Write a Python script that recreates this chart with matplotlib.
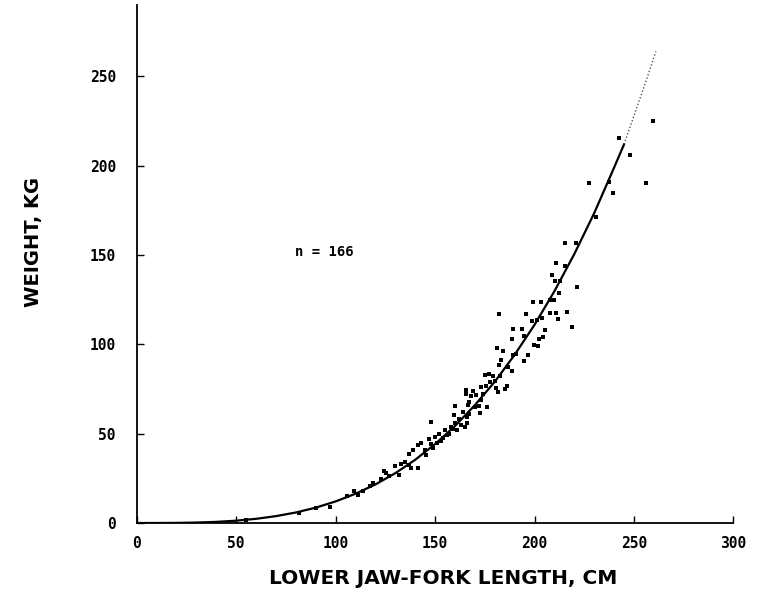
import matplotlib
matplotlib.use("Agg")
import matplotlib.pyplot as plt

# lower jaw-fork length (cm) and weight (kg)
length_cm = [215.1, 220.6, 210.9, 215.4, 209.0, 210.4, 212.7, 212.4, 221.3, 210.0,
             207.7, 199.3, 203.3, 195.5, 181.9, 207.9, 210.9, 216.1, 211.7, 203.8,
             198.5, 201.2, 218.6, 189.1, 193.8, 205.3, 202.2, 204.3, 194.5, 188.6,
             181.2, 183.9, 201.5, 199.7, 190.6, 189.1, 196.5, 194.5, 183.2, 182.1,
             186.8, 177.2, 174.9, 182.7, 188.8, 178.9, 179.9, 177.4, 180.7, 185.9,
             184.9, 181.6, 175.7, 172.9, 169.0, 165.7, 165.3, 168.2, 170.7, 174.2,
             173.2, 167.0, 176.0, 172.0, 170.3, 166.5, 159.8, 164.0, 167.0, 159.6,
             166.0, 172.5, 148.1, 166.2, 164.8, 159.0,
             141.3, 138.8, 137.1, 135.1, 138.0, 141.3, 136.8, 133.0, 129.6, 132.1,
             124.3, 125.4, 122.9, 117.1, 109.0, 111.2, 105.7, 97.0, 90.3, 81.5,
             227.3, 237.2, 255.8, 239.5, 230.8, 248.2, 242.4, 259.8,
             143.0, 145.0, 147.0, 148.0, 150.0, 151.0, 152.0, 153.0, 155.0, 156.0,
             157.0, 158.0, 160.0, 161.0, 162.0, 163.0, 145.5, 149.0, 154.0, 119.0,
             127.0, 114.0, 55.0]
weight_kg = [156.8, 156.8, 145.5, 143.8, 138.9, 135.4, 135.4, 128.7, 132.4, 125.0,
             124.6, 123.5, 123.5, 117.0, 116.8, 117.5, 117.5, 117.9, 114.4, 114.9,
             113.2, 113.6, 109.9, 108.4, 108.8, 107.8, 102.8, 104.1, 104.5, 102.8,
             98.2, 96.3, 99.1, 99.5, 94.4, 94.2, 93.9, 90.7, 91.1, 88.5,
             87.5, 83.6, 83.1, 82.5, 85.1, 82.1, 79.5, 79.0, 75.8, 76.9,
             74.9, 73.6, 76.6, 76.0, 73.8, 74.3, 72.1, 71.0, 71.5, 72.5,
             68.7, 67.8, 65.0, 65.6, 65.0, 65.9, 65.4, 62.2, 61.3, 60.7,
             59.4, 61.7, 56.3, 56.1, 53.8, 52.9,
             43.6, 40.8, 38.6, 34.3, 30.6, 30.6, 32.2, 33.3, 31.9, 26.8,
             29.2, 27.8, 24.4, 20.7, 18.1, 15.7, 15.1, 9.1, 8.2, 5.8,
             190.5, 191.1, 190.2, 184.6, 171.2, 205.8, 215.8, 225.2,
             45.0, 41.0, 47.0, 44.0, 48.0, 45.0, 50.0, 46.0, 52.0, 49.0,
             50.0, 54.0, 56.0, 52.0, 58.0, 55.0, 38.0, 42.0, 47.5, 22.5,
             26.5, 18.0, 1.5]

# fitted length-weight curve, sampled every 10 cm
curve_len = [0, 10, 20, 30, 40, 50, 60, 70, 80, 90, 100, 110, 120, 130, 140, 150,
             160, 170, 180, 190, 200, 210, 220, 230, 240, 245]
curve_wt = [0.0, 0.01, 0.07, 0.26, 0.64, 1.31, 2.35, 3.85, 5.9, 8.6, 12.1, 16.4,
            21.6, 27.9, 35.4, 44.2, 54.3, 66.0, 79.1, 94.2, 111.0, 129.8, 150.6,
            173.5, 199.0, 212.0]
curve_tail_len = [245, 250, 255, 261]
curve_tail_wt = [212.0, 228.0, 244.0, 264.0]

x_ticks = [0, 50, 100, 150, 200, 250, 300]
y_ticks = [0, 50, 100, 150, 200, 250]

MONO = "DejaVu Sans Mono"
fig = plt.figure(figsize=(7.64, 6.12), dpi=100)
ax = fig.add_axes([0.179, 0.1454, 0.781, 0.8464])

ax.plot(curve_len, curve_wt, color="black", lw=1.6, zorder=2)
ax.plot(curve_tail_len, curve_tail_wt, color="#555555", lw=1.0, ls=(0, (1, 1.5)), zorder=2)
ax.scatter(length_cm, weight_kg, s=5, color="black", marker="s", linewidths=0, zorder=3)

ax.set_xlim(0, 300)
ax.set_ylim(0, 290)
ax.set_xticks(x_ticks)
ax.set_yticks(y_ticks)
ax.set_xticklabels([str(v) for v in x_ticks], fontfamily=MONO, fontweight="bold", fontsize=10.5)
ax.set_yticklabels([str(v) for v in y_ticks], fontfamily=MONO, fontweight="bold", fontsize=10.5)
ax.tick_params(axis="x", direction="in", length=5, width=1, pad=9)
ax.tick_params(axis="y", direction="in", length=5, width=1, pad=15)
ax.spines[["top", "right"]].set_visible(False)
ax.spines["left"].set_linewidth(1.3)
ax.spines["bottom"].set_linewidth(1.3)

ax.text(94.5, 152, "n = 166", ha="center", va="center", fontsize=10, fontweight="bold",
        fontfamily=MONO)

fig.text(443 / 764, 1 - 578 / 612, "LOWER JAW-FORK LENGTH, CM", ha="center", va="center",
         fontsize=14.5, fontweight="bold")
fig.text(33 / 764, 1 - 242 / 612, "WEIGHT, KG", ha="center", va="center", rotation=90,
         fontsize=14, fontweight="bold")

fig.savefig("out.png", dpi=100, facecolor="white")
